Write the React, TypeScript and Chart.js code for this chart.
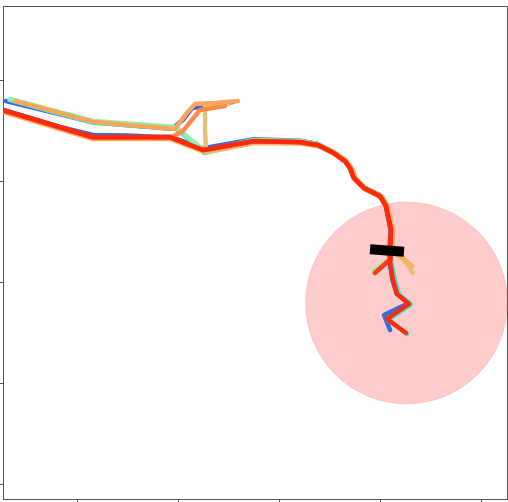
import { useEffect, useRef } from "react";
import { Chart, registerables } from "chart.js";

Chart.register(...registerables);

type P = { x: number; y: number };
const pts = (a: number[][]): P[] => a.map(([x, y]) => ({ x, y }));

// axis ranges and tick values (tick labels are outside the visible crop)
const X_RANGE = [-73.3, 425.7];
const Y_RANGE = [-13.9, 474.2];
const X_TICKS = [0, 100, 200, 300, 400];
const Y_TICKS = [0, 100, 200, 300, 400];

// trajectories (x, y)
const TRACK_BLUE_A = [[-70.3,380.2],[15.8,359.0],[94.1,352.6],[104.9,361.4],[113.9,373.2],[154.4,379.2]];
const TRACK_BLUE_B = [[-73.3,371.3],[-16.8,354.4],[15.8,346.6],[49.5,346.0],[82.2,344.5],[92.1,344.8],[124.7,333.3],[175.2,342.2],[220.8,340.8],[238.1,337.8],[251.5,330.9],[264.3,322.0],[269.3,315.0],[273.2,305.1],[283.1,295.2],[299.5,287.3],[305.4,277.0],[310.4,253.0],[309.4,234.6],[309.4,220.8],[312.3,203.0],[316.3,189.6],[328.7,180.2],[303.9,168.3],[309.9,153.5]];
const TRACK_CYAN = [[-67.3,381.2],[15.8,358.6],[98.0,352.6],[111.9,341.6],[125.7,328.7],[176.2,339.6],[221.8,339.1],[239.6,336.1],[253.5,329.2],[266.3,320.3],[271.8,313.3],[275.7,303.4],[285.6,293.5],[301.0,285.6],[307.4,275.7],[312.4,252.0],[311.4,234.1],[311.4,220.3],[314.8,202.5],[318.8,188.6],[330.7,178.7],[307.9,163.3],[326.7,149.5]];
const TRACK_GREEN = [[-66.3,382.1],[15.8,360.4],[98.0,354.4],[111.9,342.5],[126.7,330.7],[175.2,341.6],[220.8,340.6],[238.6,337.6],[252.5,330.7],[265.3,321.8],[269.3,314.8],[273.2,304.9],[283.1,295.0],[299.0,287.1],[305.9,277.2],[311.9,253.5],[311.9,235.6],[311.9,225.7],[294.0,211.9]];
const TRACK_KHAKI = [[149.5,377.2],[126.7,375.2],[126.7,353.4],[127.7,329.7],[176.2,338.6],[221.3,338.1],[239.6,335.1],[253.5,328.2],[266.3,319.3],[271.3,312.3],[275.2,302.4],[285.1,292.5],[301.0,284.6],[306.9,274.7],[311.9,251.0],[310.9,233.6],[319.8,226.7],[326.7,218.8],[332.6,209.9]];
const TRACK_SAND = [[-73.3,369.3],[15.8,342.5],[92.1,342.5],[125.7,329.7],[176.2,339.1],[221.8,338.6],[240.1,336.1],[254.5,329.2],[267.3,320.3],[272.3,313.3],[276.2,303.4],[286.1,293.5],[302.0,285.6],[307.9,275.7],[312.9,252.0],[311.9,234.6],[311.9,230.7],[322.7,224.7],[331.7,216.8]];
const TRACK_ORANGE_B = [[-73.3,370.3],[15.8,343.5],[92.1,343.5],[104.9,350.5],[121.8,371.3],[146.5,375.2]];
const TRACK_ORANGE_A = [[-61.4,380.2],[15.8,359.4],[97.0,352.4],[107.9,367.3],[116.8,377.2],[136.6,378.2],[159.4,380.2]];
const TRACK_RED_B = [[-73.3,371.0],[15.8,344.2],[92.1,344.2],[124.7,331.4],[175.2,340.3],[220.8,339.3],[238.6,336.3],[252.5,329.4],[265.3,320.5],[270.3,313.5],[274.2,303.6],[284.1,293.7],[300.0,285.8],[305.9,275.9],[310.9,252.2],[310.4,234.3],[310.4,223.7],[295.0,209.9]];
const TRACK_RED_A = [[-73.3,371.3],[15.8,344.5],[92.1,344.5],[124.7,331.7],[175.2,340.6],[220.8,339.6],[238.6,336.6],[252.5,329.7],[265.3,320.8],[270.3,313.8],[274.2,303.9],[284.1,294.0],[300.0,286.1],[305.9,276.2],[310.9,252.5],[309.9,234.6],[309.9,220.8],[312.8,203.0],[316.8,189.1],[328.7,179.2],[306.9,164.3],[325.7,150.5]];

const TRACKS = [
  { data: TRACK_RED_A, color: "#ff2a0a" },
  { data: TRACK_RED_B, color: "#ff3a14" },
  { data: TRACK_ORANGE_A, color: "#f9a55a" },
  { data: TRACK_ORANGE_B, color: "#ff8a4a" },
  { data: TRACK_SAND, color: "#f6b068" },
  { data: TRACK_KHAKI, color: "#e0c474" },
  { data: TRACK_GREEN, color: "#90f0aa" },
  { data: TRACK_CYAN, color: "#44e2d2" },
  { data: TRACK_BLUE_B, color: "#2f6ee6" },
  { data: TRACK_BLUE_A, color: "#3a5ef0" },
];

// vehicle box (center line) and zone circle
const BOX_AXIS = [[290.1, 233.4], [323.7, 231.0]];
const ZONE_CENTER = [326.2, 180.2];
const ZONE_RADIUS = 100;

export default function App() {
  const ref = useRef<HTMLCanvasElement | null>(null);

  useEffect(() => {
    const canvas = ref.current;
    if (!canvas) return;
    const spine = "#555555";

    const trackSets = TRACKS.map((t, i) => ({
      type: "scatter" as const,
      data: pts(t.data),
      showLine: true,
      borderColor: t.color,
      backgroundColor: t.color,
      borderWidth: 4.5,
      borderCapStyle: "round" as const,
      borderJoinStyle: "round" as const,
      pointRadius: 0,
      pointHoverRadius: 0,
      tension: 0,
      fill: false,
      clip: 0,
      order: i + 1,
    }));

    const chart = new Chart(canvas, {
      type: "scatter",
      data: {
        datasets: [
          {
            type: "scatter",
            data: pts(BOX_AXIS),
            showLine: true,
            borderColor: "#000000",
            backgroundColor: "#000000",
            borderWidth: 10,
            borderCapStyle: "butt",
            pointRadius: 0,
            pointHoverRadius: 0,
            clip: 0,
            order: 0,
          },
          ...trackSets,
          {
            type: "scatter",
            data: [{ x: ZONE_CENTER[0], y: ZONE_CENTER[1] }],
            showLine: false,
            backgroundColor: "rgba(255,0,0,0.2)",
            borderColor: "rgba(255,0,0,0.12)",
            borderWidth: 1,
            pointRadius: (ctx: any) => {
              const s = ctx.chart.scales.x;
              return Math.abs(
                s.getPixelForValue(ZONE_CENTER[0] + ZONE_RADIUS) - s.getPixelForValue(ZONE_CENTER[0])
              );
            },
            pointHoverRadius: 0,
            clip: 0,
            order: 50,
          },
        ] as any,
      },
      options: {
        responsive: false,
        animation: false,
        devicePixelRatio: 1,
        events: [],
        layout: { padding: { left: 0, right: 1, top: 6, bottom: 0 } },
        plugins: { legend: { display: false }, tooltip: { enabled: false } },
        scales: {
          x: {
            type: "linear",
            position: "bottom",
            min: X_RANGE[0],
            max: X_RANGE[1],
            afterBuildTicks: (s: any) => {
              s.ticks = X_TICKS.map((v) => ({ value: v }));
            },
            ticks: { display: false },
            grid: { drawOnChartArea: false, drawTicks: true, tickLength: 3, color: spine, lineWidth: 1 },
            border: { display: true, color: spine, width: 1 },
          },
          y: {
            type: "linear",
            position: "left",
            min: Y_RANGE[0],
            max: Y_RANGE[1],
            afterBuildTicks: (s: any) => {
              s.ticks = Y_TICKS.map((v) => ({ value: v }));
            },
            ticks: { display: false },
            grid: { drawOnChartArea: false, drawTicks: true, tickLength: 3, color: spine, lineWidth: 1 },
            border: { display: true, color: spine, width: 1 },
          },
          x2: {
            type: "linear",
            position: "top",
            min: X_RANGE[0],
            max: X_RANGE[1],
            ticks: { display: false },
            grid: { drawOnChartArea: false, drawTicks: false },
            border: { display: true, color: spine, width: 1 },
          },
          y2: {
            type: "linear",
            position: "right",
            min: Y_RANGE[0],
            max: Y_RANGE[1],
            ticks: { display: false },
            grid: { drawOnChartArea: false, drawTicks: false },
            border: { display: true, color: spine, width: 1 },
          },
        },
      } as any,
    });
    return () => chart.destroy();
  }, []);

  return (
    <div style={{ position: "fixed", left: 0, top: 0, width: 508, height: 502, overflow: "hidden", background: "#fff" }}>
      <canvas ref={ref} width={508} height={502} style={{ display: "block", width: 508, height: 502 }} />
    </div>
  );
}
